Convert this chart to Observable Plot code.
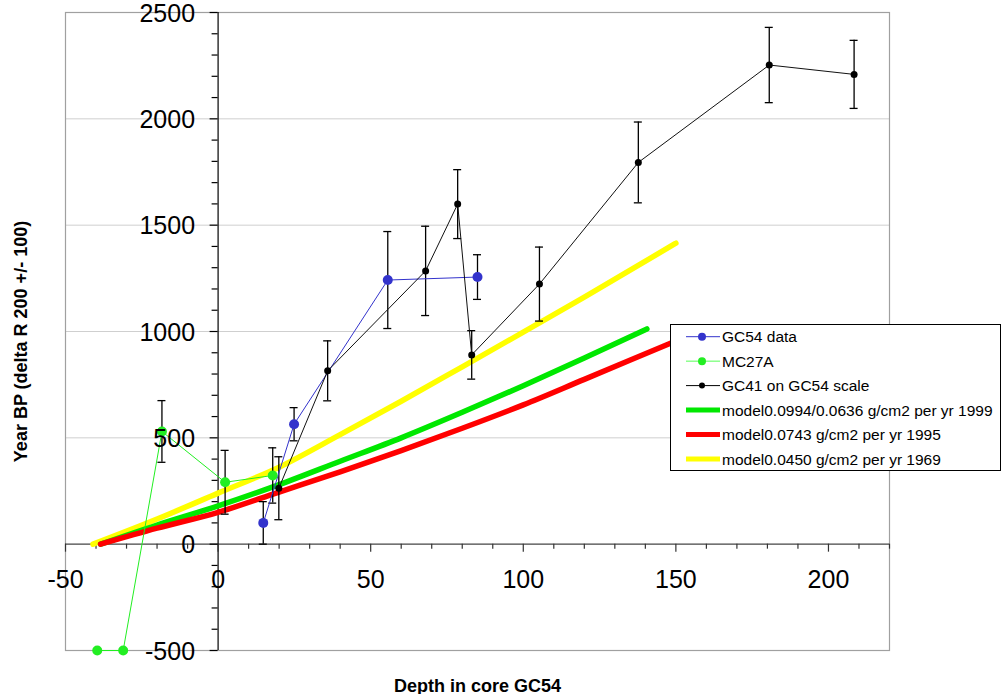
<!DOCTYPE html>
<html><head><meta charset="utf-8">
<script src="https://cdn.jsdelivr.net/npm/d3@7"></script>
<script src="https://cdn.jsdelivr.net/npm/@observablehq/plot@0.6"></script>
<style>body{margin:0;background:#fff} svg{display:block}</style>
</head><body><div id="chart"></div>
<script>
// ---- data ----
const gc54Depth = [14.8, 24.9, 55.6, 85.0];
const gc54Year  = [100, 564, 1242, 1256];
const gc54Err   = [100, 78, 228, 105];

const mc27Depth = [-39.6, -31.1, -18.4, 2.3, 17.9];
const mc27Year  = [-500, -500, 530, 291, 323];
const mc27Err   = [0, 0, 145, 150, 130];

const gc41Depth = [19.9, 35.9, 68.0, 78.5, 83.1, 105.3, 137.7, 180.6, 208.4];
const gc41Year  = [263, 815, 1285, 1599, 890, 1223, 1795, 2253, 2209];
const gc41Err   = [148, 141, 210, 162, 114, 174, 190, 177, 160];

const modelGreenDepth  = [-38.5, -20, 0, 20, 40, 60, 80, 100, 120, 140.5];
const modelGreenYear   = [0, 90, 180, 280, 390, 500, 620, 745, 875, 1012];
const modelRedDepth    = [-38.5, -20, 0, 20, 40, 60, 80, 100, 120, 150];
const modelRedYear     = [0, 75, 150, 245, 340, 440, 545, 655, 775, 955];
const modelYellowDepth = [-41, -20, 0, 20, 40, 60, 80, 100, 120, 150];
const modelYellowYear  = [0, 118, 240, 362, 515, 672, 834, 997, 1162, 1415];

const xTickValues = [-50, 0, 50, 100, 150, 200];
const yTickValues = [-500, 0, 500, 1000, 1500, 2000, 2500];
const gridValues  = [500, 1000, 1500, 2000];

const legendLabels = [
  "GC54 data",
  "MC27A",
  "GC41 on GC54 scale",
  "model0.0994/0.0636 g/cm2 per yr 1999",
  "model0.0743 g/cm2 per yr 1995",
  "model0.0450 g/cm2 per yr 1969"
];

// ---- build tables ----
const zip = (xs, ys, es) => xs.map((x, i) => ({x, y: ys[i], e: es ? es[i] : 0}));
const gc54 = zip(gc54Depth, gc54Year, gc54Err);
const mc27 = zip(mc27Depth, mc27Year, mc27Err);
const gc41 = zip(gc41Depth, gc41Year, gc41Err);
const mGreen = zip(modelGreenDepth, modelGreenYear);
const mRed = zip(modelRedDepth, modelRedYear);
const mYellow = zip(modelYellowDepth, modelYellowYear);

const W = 1002, H = 694;
const mL = 65, mR = 113, mT = 12, mB = 44;
const xDomain = [-50, 220], yDomain = [-500, 2500];
const pxX = (W - mL - mR) / (xDomain[1] - xDomain[0]);
const pxY = (H - mT - mB) / (yDomain[1] - yDomain[0]);
const ux = px => px / pxX, uy = px => px / pxY;

const xMinor = d3.range(-40, 221, 10).filter(v => v % 50 !== 0);
const yMinor = d3.range(-400, 2500, 100).filter(v => v % 500 !== 0);

const font = "Liberation Sans, Arial, Helvetica, sans-serif";
const BLUE = "#3333cc", MCG = "#22ee22", MG = "#00e800", RED = "#ff0000", YEL = "#ffff00";

const errs = (data, cap) => [
  Plot.ruleX(data.filter(d => d.e > 0), {x: "x", y1: d => d.y - d.e, y2: d => d.y + d.e, stroke: "#000", strokeWidth: 1.3}),
  Plot.ruleY(data.filter(d => d.e > 0), {y: d => d.y + d.e, x1: d => d.x - ux(cap), x2: d => d.x + ux(cap), stroke: "#000", strokeWidth: 1.3}),
  Plot.ruleY(data.filter(d => d.e > 0), {y: d => d.y - d.e, x1: d => d.x - ux(cap), x2: d => d.x + ux(cap), stroke: "#000", strokeWidth: 1.3})
];

const plot = Plot.plot({
  width: W, height: H,
  marginLeft: mL, marginRight: mR, marginTop: mT, marginBottom: mB,
  x: {domain: xDomain, axis: null},
  y: {domain: yDomain, axis: null},
  style: {fontFamily: font, background: "white", overflow: "visible"},
  marks: [
    Plot.ruleY(gridValues, {stroke: "#cfcfcf", strokeWidth: 1}),
    Plot.frame({stroke: "#a0a0a0", strokeWidth: 1.2}),
    Plot.ruleY([0], {stroke: "#444", strokeWidth: 1.2}),
    Plot.ruleX([0], {stroke: "#000", strokeWidth: 1.2}),
    // ticks
    Plot.ruleX(xTickValues, {x: d => d, y1: 0, y2: -uy(8), stroke: "#333", strokeWidth: 1.2}),
    Plot.ruleX(xMinor, {x: d => d, y1: 0, y2: -uy(5), stroke: "#333", strokeWidth: 1.2}),
    Plot.ruleY(yTickValues, {y: d => d, x1: -ux(8), x2: 0, stroke: "#000", strokeWidth: 1.2}),
    Plot.ruleY(yMinor, {y: d => d, x1: -ux(6), x2: 0, stroke: "#000", strokeWidth: 1.2}),
    // model lines
    Plot.line(mYellow, {x: "x", y: "y", stroke: YEL, strokeWidth: 5.5, curve: "monotone-x"}),
    Plot.line(mGreen, {x: "x", y: "y", stroke: MG, strokeWidth: 5.5, curve: "monotone-x"}),
    Plot.line(mRed, {x: "x", y: "y", stroke: RED, strokeWidth: 5.5, curve: "monotone-x"}),
    // error bars
    ...errs(gc54, 4), ...errs(mc27, 4), ...errs(gc41, 4),
    // series
    Plot.line(gc54, {x: "x", y: "y", stroke: BLUE, strokeWidth: 1}),
    Plot.line(mc27, {x: "x", y: "y", stroke: MCG, strokeWidth: 1}),
    Plot.line(gc41, {x: "x", y: "y", stroke: "#111", strokeWidth: 1}),
    Plot.dot(gc54, {x: "x", y: "y", r: 5, fill: BLUE}),
    Plot.dot(mc27, {x: "x", y: "y", r: 5, fill: MCG}),
    Plot.dot(gc41, {x: "x", y: "y", r: 3.5, fill: "#000"}),
    // tick labels
    Plot.text(xTickValues, {x: d => d, y: 0, dy: 36, text: d => String(d), fontSize: 25, fill: "#000"}),
    Plot.text(yTickValues, {x: 0, y: d => d, dx: -23, dy: 1, text: d => String(d), textAnchor: "end", fontSize: 25, fill: "#000"}),
    // axis titles
    Plot.text(["Depth in core GC54"], {frameAnchor: "bottom", dy: 41, text: d => d, textAnchor: "middle", fontSize: 18, fontWeight: "bold", fill: "#000"}),
    Plot.text(["Year BP (delta R 200 +/- 100)"], {frameAnchor: "left", dx: -44, dy: 10, rotate: -90, text: d => d, textAnchor: "middle", fontSize: 18, fontWeight: "bold", fill: "#000"})
  ]
});

// ---- legend ----
const svg = d3.select(plot);
const lg = svg.append("g").attr("font-family", font).attr("text-anchor", "start");
lg.append("rect").attr("x", 670.5).attr("y", 324.5).attr("width", 330).attr("height", 146)
  .attr("fill", "white").attr("stroke", "#000").attr("stroke-width", 1);
const legendStyle = [
  {c: BLUE, w: 1, r: 4, dot: BLUE},
  {c: "#55ff55", w: 1, r: 4, dot: MCG},
  {c: "#000", w: 1, r: 3, dot: "#000"},
  {c: MG, w: 5, r: 0},
  {c: RED, w: 5, r: 0},
  {c: YEL, w: 5, r: 0}
];
legendLabels.forEach((lab, i) => {
  const y = 336.7 + i * 24.45;
  const s = legendStyle[i];
  lg.append("line").attr("x1", 686).attr("x2", 720).attr("y1", y).attr("y2", y)
    .attr("stroke", s.c).attr("stroke-width", s.w);
  if (s.r) lg.append("circle").attr("cx", 702).attr("cy", y).attr("r", s.r).attr("fill", s.dot);
  lg.append("text").attr("x", 722).attr("y", y).attr("dy", "0.36em").attr("font-size", 15.5)
    .attr("text-anchor", "start").attr("fill", "#000").text(lab);
});

document.getElementById("chart").appendChild(plot);
</script>
</body></html>
